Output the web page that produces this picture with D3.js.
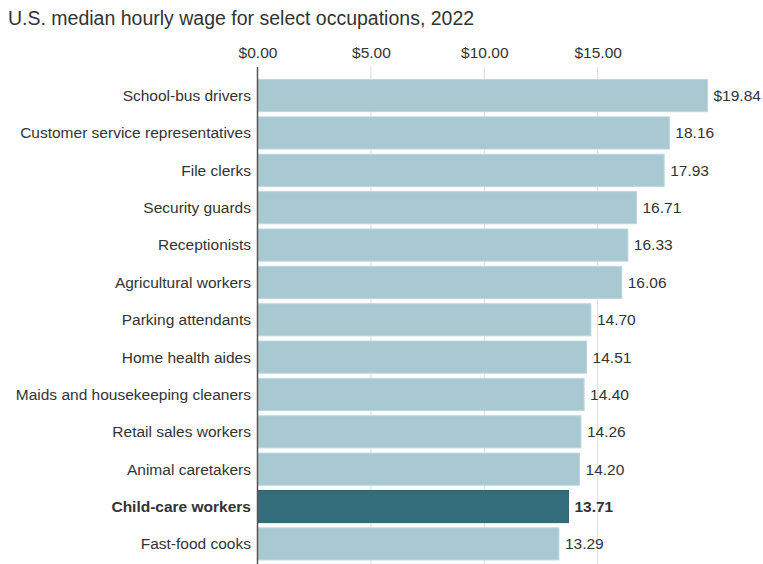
<!DOCTYPE html>
<html><head><meta charset="utf-8">
<script src="https://cdn.jsdelivr.net/npm/d3@7"></script>
<style>
body{margin:0;background:#fff;}
text{font-family:"Liberation Sans",Arial,sans-serif;}
</style></head>
<body><svg id="c" width="763" height="564"></svg>
<script>
const occupations = ["School-bus drivers","Customer service representatives","File clerks","Security guards","Receptionists","Agricultural workers","Parking attendants","Home health aides","Maids and housekeeping cleaners","Retail sales workers","Animal caretakers","Child-care workers","Fast-food cooks"];
const wages = [19.84,18.16,17.93,16.71,16.33,16.06,14.70,14.51,14.40,14.26,14.20,13.71,13.29];
const highlighted = ["Child-care workers"];
const tickValues = [0,5,10,15];
const title = "U.S. median hourly wage for select occupations, 2022";

const svg = d3.select("#c");
const x = d3.scaleLinear().domain([0,15]).range([257.5,597.7]);
const y = d3.scaleBand().domain(occupations).range([77.3,562.2]).paddingInner(0.14).paddingOuter(0.06);

svg.append("text").attr("x",8).attr("y",25).attr("font-size",19.5).attr("fill","#333").text(title);

// grid
const g = svg.append("g");
g.selectAll("line.grid").data(tickValues.slice(1)).join("line")
  .attr("x1",d=>x(d)).attr("x2",d=>x(d)).attr("y1",67).attr("y2",564)
  .attr("stroke","#dcdcdc").attr("stroke-width",1);

// axis labels
const ax = svg.append("g").attr("transform","translate(0,57.5)")
  .call(d3.axisTop(x).tickValues(tickValues).tickSize(0).tickPadding(0).tickFormat(d=>"$"+d3.format(".2f")(d)));
ax.select(".domain").remove();
ax.selectAll("text").attr("font-size",15.5).attr("fill","#333").attr("font-family","Liberation Sans, Arial, sans-serif").attr("dy","0");

const data = occupations.map((o,i)=>({o, v:wages[i], hi: highlighted.includes(o)}));

svg.selectAll("rect.bar").data(data).join("rect")
  .attr("x",x(0)).attr("y",d=>y(d.o)).attr("width",d=>x(d.v)-x(0)).attr("height",y.bandwidth())
  .attr("fill",d=>d.hi?"#336d7b":"#a8c9d1").attr("stroke",d=>d.hi?"#2d6370":"#bcd7dd").attr("stroke-width",1);

svg.selectAll("text.lab").data(data).join("text")
  .attr("x",251).attr("y",d=>y(d.o)+y.bandwidth()/2).attr("dy","0.35em")
  .attr("text-anchor","end").attr("font-size",15.5).attr("fill","#333")
  .attr("font-weight",d=>d.hi?"bold":"normal").text(d=>d.o);

svg.selectAll("text.val").data(data).join("text")
  .attr("x",d=>x(d.v)+6).attr("y",d=>y(d.o)+y.bandwidth()/2).attr("dy","0.35em")
  .attr("font-size",15.5).attr("fill","#333")
  .attr("font-weight",d=>d.hi?"bold":"normal")
  .text((d,i)=> (i===0?"$":"") + d3.format(".2f")(d.v));

// axis line
svg.append("line").attr("x1",x(0)).attr("x2",x(0)).attr("y1",67).attr("y2",564).attr("stroke","#555").attr("stroke-width",1.5);
</script></body></html>
